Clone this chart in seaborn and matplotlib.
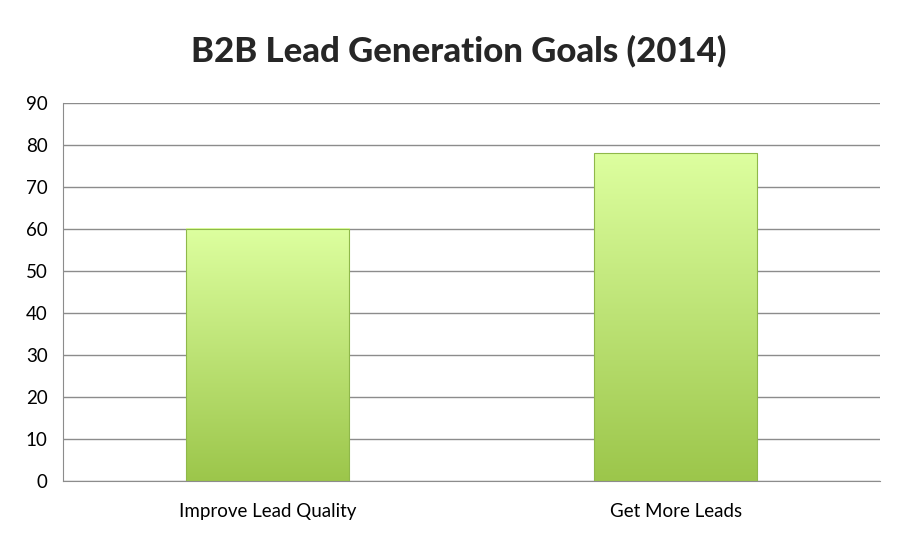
import numpy as np
import pandas as pd
import matplotlib
matplotlib.use("Agg")
import matplotlib.pyplot as plt
from matplotlib.colors import LinearSegmentedColormap
import seaborn as sns

# ========== 数据 ==========
categories = ["Improve Lead Quality", "Get More Leads"]
values = [60, 78]
y_ticks = list(range(0, 91, 10))
title = "B2B Lead Generation Goals (2014)"

df = pd.DataFrame({"goal": categories, "pct": values})

sns.set_style("white")
plt.rcParams["font.family"] = ["Lato", "DejaVu Sans"]

fig = plt.figure(figsize=(9.17, 5.42), dpi=100)
ax = fig.add_axes([0.0687, 0.1125, 0.8910, 0.6975])

sns.barplot(data=df, x="goal", y="pct", ax=ax, width=0.4,
            color="#b8e070", edgecolor="#8fb84a", linewidth=0.8)

# 每根柱子单独渐变（下深上浅）
grad = LinearSegmentedColormap.from_list("g", ["#9cc64b", "#ddff9f"])
for p in ax.patches:
    x0, y0 = p.get_x(), p.get_y()
    w, h = p.get_width(), p.get_height()
    img = np.linspace(0, 1, 256).reshape(-1, 1)
    ax.imshow(img, extent=[x0, x0 + w, y0, y0 + h], origin="lower",
              cmap=grad, vmin=0, vmax=1, aspect="auto", zorder=2.5)
    p.set_facecolor("none")
    p.set_zorder(3)
ax.set_xlim(-0.5, len(categories) - 0.5)
ax.set_ylim(0, 90)

ax.set_yticks(y_ticks)
ax.yaxis.grid(True, color="#8c8c8c", linewidth=1)
ax.set_axisbelow(True)
for s in ["top", "right"]:
    ax.spines[s].set_visible(False)
ax.spines["left"].set_color("#8c8c8c")
ax.spines["bottom"].set_color("#8c8c8c")

ax.tick_params(axis="y", length=6, color="#8c8c8c", labelsize=13.5, pad=5,
               labelcolor="black")
ax.tick_params(axis="x", length=0, labelsize=13.5, pad=16, labelcolor="black")
# x 轴分类边界刻度
ax.set_xticks([-0.5, 0.5, 1.5], minor=True)
ax.tick_params(axis="x", which="minor", length=6, color="#8c8c8c", direction="out")

ax.set_xlabel("")
ax.set_ylabel("")
fig.suptitle(title, fontsize=25, fontweight="black", y=0.935)

plt.savefig("out.png", dpi=100)
